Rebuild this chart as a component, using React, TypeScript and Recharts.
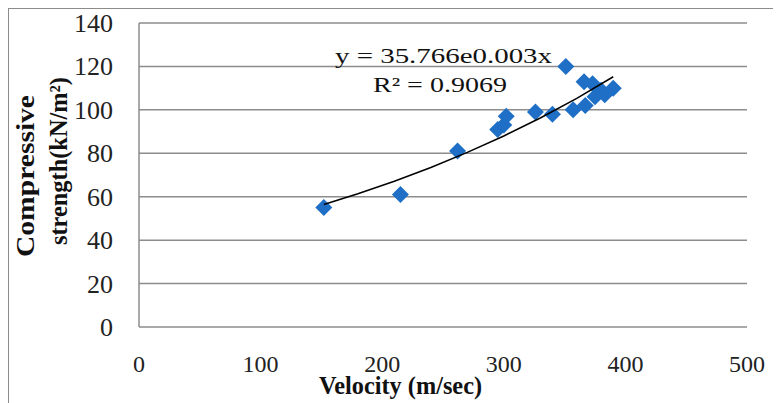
import { ScatterChart, Scatter, XAxis, YAxis, CartesianGrid, Customized } from "recharts";

// velocity (m/sec) and compressive strength (kN/m²)
const velocity = [152, 215, 262, 295, 300, 302, 326, 340, 351, 357, 367, 366, 373, 375, 380, 383, 390];
const strength = [55, 61, 81, 91, 93, 97, 99, 98, 120, 100, 102, 113, 112, 106, 109, 107, 110];

const xTicks = [0, 100, 200, 300, 400, 500];
const yTicks = [0, 20, 40, 60, 80, 100, 120, 140];

// exponential trendline from the printed equation
const trendA = 35.766;
const trendB = 0.003;
const trendX = [152, 180, 210, 240, 270, 300, 330, 360, 390];

const points = velocity.map((x, i) => ({ x, y: strength[i] }));
const trend = trendX.map((x) => ({ x, y: trendA * Math.exp(trendB * x) }));

const FONT = "'Liberation Serif', 'Times New Roman', serif";
const GRID = "#8c8c8c";
const BLUE = "#1f6fc6";

const Diamond = (props: any) => {
  const { cx, cy } = props;
  const r = 8.5;
  return (
    <polygon
      points={`${cx},${cy - r} ${cx + r},${cy} ${cx},${cy + r} ${cx - r},${cy}`}
      fill={BLUE}
    />
  );
};

const XTick = (props: any) => {
  const { x, y, payload } = props;
  return (
    <text x={x} y={y + 17} textAnchor="middle" fontFamily={FONT} fontSize={24} fill="#222">
      {payload.value}
    </text>
  );
};

const YTick = (props: any) => {
  const { x, y, payload } = props;
  return (
    <text x={x} y={y + 9} textAnchor="end" fontFamily={FONT} fontSize={26} fill="#222">
      {payload.value}
    </text>
  );
};

const Annotations = () => (
  <g fontFamily={FONT} fill="#111">
    <text x={326} y={54} fontSize={22} textLength={217} lengthAdjust="spacingAndGlyphs">
      y = 35.766e0.003x
    </text>
    <text x={364} y={83} fontSize={22} textLength={134} lengthAdjust="spacingAndGlyphs">
      R² = 0.9069
    </text>
    <text x={310} y={385} fontSize={25} fontWeight="bold" textLength={163} lengthAdjust="spacingAndGlyphs">
      Velocity (m/sec)
    </text>
    <text
      x={25}
      y={167}
      transform="rotate(-90 25 167)"
      textAnchor="middle"
      fontSize={25}
      fontWeight="bold"
      textLength={162}
      lengthAdjust="spacingAndGlyphs"
    >
      Compressive
    </text>
    <text
      x={58}
      y={152}
      transform="rotate(-90 58 152)"
      textAnchor="middle"
      fontSize={25}
      fontWeight="bold"
      textLength={168}
      lengthAdjust="spacingAndGlyphs"
    >
      strength(kN/m²)
    </text>
  </g>
);

export default function App() {
  return (
    <div style={{ width: 767, height: 398, border: "1px solid #8c8c8c", background: "#fff" }}>
      <ScatterChart width={767} height={392} margin={{ top: 14, right: 29, left: 0, bottom: 0 }}>
        <CartesianGrid vertical={false} stroke={GRID} strokeWidth={1.5} />
        <XAxis
          type="number"
          dataKey="x"
          domain={[0, 500]}
          ticks={xTicks}
          axisLine={false}
          tickLine={false}
          tickSize={0}
          tickMargin={28}
          height={74}
          tick={XTick}
        />
        <YAxis
          type="number"
          dataKey="y"
          domain={[0, 140]}
          ticks={yTicks}
          width={130}
          axisLine={{ stroke: GRID, strokeWidth: 1.5 }}
          tickLine={false}
          tickSize={0}
          tickMargin={26}
          tick={YTick}
        />
        <Scatter data={points} shape={Diamond} isAnimationActive={false} />
        <Scatter
          data={trend}
          line={{ stroke: "#000", strokeWidth: 1.5 }}
          lineType="joint"
          shape={() => <g />}
          isAnimationActive={false}
        />
        <Customized component={Annotations} />
      </ScatterChart>
    </div>
  );
}
